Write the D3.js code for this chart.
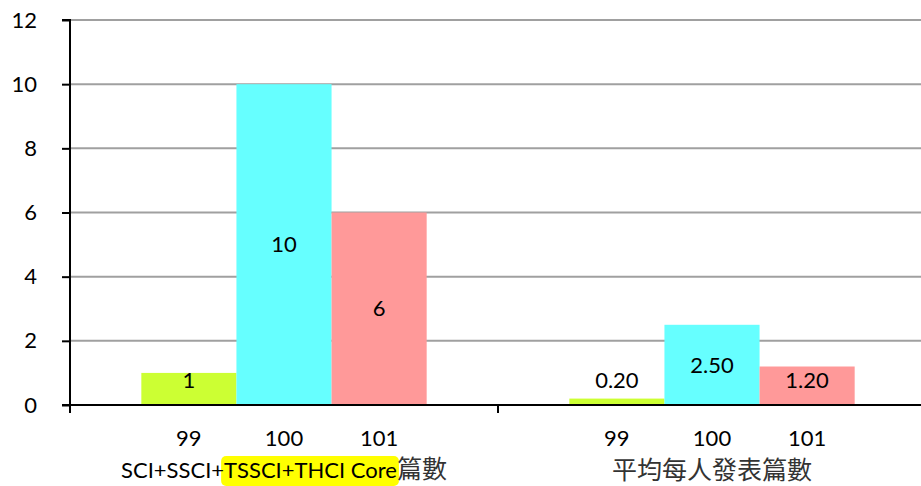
<!DOCTYPE html>
<html><head><meta charset="utf-8">
<script src="https://cdn.jsdelivr.net/npm/d3@7"></script>
<style>body{margin:0;background:#fff}svg{display:block}text{font-family:Lato,"Noto Sans CJK TC",sans-serif}</style>
</head><body><svg id="c" width="921" height="486"></svg>
<script>
const groups = ["SCI+SSCI+TSSCI+THCI Core篇數", "平均每人發表篇數"];
const years = ["99", "100", "101"];
const values = [[1, 10, 6], [0.2, 2.5, 1.2]];
const labels = [["1", "10", "6"], ["0.20", "2.50", "1.20"]];
const colors = ["#CCFF33", "#66FFFF", "#FF9999"];
const yTicks = [0, 2, 4, 6, 8, 10, 12];

const FS = 22, CJK = 25;
const svg = d3.select("#c");
const x0 = 70, x1 = 926, yTop = 20, yBot = 405;
const y = d3.scaleLinear().domain([0, 12]).range([yBot, yTop]);
const gx = d3.scaleBand().domain(groups).range([x0, x1]).paddingInner(0).paddingOuter(0);
const bx = d3.scaleBand().domain(years).range([0, gx.bandwidth()]).paddingOuter(0.75).paddingInner(0);

// gridlines
svg.append("g").selectAll("line").data(yTicks.filter(d => d > 0)).join("line")
  .attr("x1", x0).attr("x2", x1).attr("y1", d => y(d)).attr("y2", d => y(d))
  .attr("stroke", "#a0a0a0").attr("stroke-width", 2);

// bars
groups.forEach((g, gi) => {
  const gg = svg.append("g").attr("transform", `translate(${gx(g)},0)`);
  gg.selectAll("rect").data(values[gi]).join("rect")
    .attr("x", (d, i) => bx(years[i])).attr("width", bx.bandwidth())
    .attr("y", d => y(d)).attr("height", d => yBot - y(d))
    .attr("fill", (d, i) => colors[i]);
  gg.selectAll("text.v").data(values[gi]).join("text").attr("class", "v")
    .attr("x", (d, i) => bx(years[i]) + bx.bandwidth() / 2)
    .attr("y", d => Math.min((y(d) + yBot) / 2, yBot - 25))
    .attr("dy", "0.35em").attr("text-anchor", "middle")
    .attr("font-size", FS).attr("fill", "#000")
    .text((d, i) => labels[gi][i]);
  gg.selectAll("text.yr").data(years).join("text").attr("class", "yr")
    .attr("x", d => bx(d) + bx.bandwidth() / 2).attr("y", 438)
    .attr("dy", "0.35em").attr("text-anchor", "middle")
    .attr("font-size", FS).attr("fill", "#000").text(d => d);
});

// y axis
const ya = svg.append("g").attr("transform", `translate(${x0},0)`)
  .call(d3.axisLeft(y).tickValues(yTicks).tickSize(8).tickPadding(25));
ya.select(".domain").attr("stroke", "#000").attr("stroke-width", 2).attr("d", `M-8,${yTop}H0V${yBot}`);
ya.selectAll(".tick line").attr("stroke", "#000").attr("stroke-width", 2);
ya.selectAll(".tick text").attr("font-size", FS).attr("fill", "#000").attr("font-family", 'Lato,"Noto Sans CJK TC",sans-serif');

// x axis
svg.append("line").attr("x1", x0 - 8).attr("x2", x1).attr("y1", yBot).attr("y2", yBot)
  .attr("stroke", "#000").attr("stroke-width", 2);
svg.append("g").selectAll("line").data(groups).join("line")
  .attr("x1", d => gx(d)).attr("x2", d => gx(d)).attr("y1", yBot).attr("y2", yBot + 8)
  .attr("stroke", "#000").attr("stroke-width", 2);

// group labels
const hlRect = svg.append("rect").attr("fill", "#FFFF00").attr("rx", 5);
const t1 = svg.append("text").attr("x", gx(groups[0]) + gx.bandwidth() / 2).attr("y", 470)
  .attr("dy", "0.35em").attr("text-anchor", "middle").attr("font-size", FS).attr("fill", "#000");
const parts = ["SCI+SSCI+", "TSSCI+THCI Core", "篇數"];
parts.forEach((p, i) => t1.append("tspan").attr("font-size", i === 2 ? CJK : FS)
  .attr("fill", i === 2 ? "#333" : "#000").text(p));
const hl = t1.selectAll("tspan").nodes()[1];
const sx = hl.getStartPositionOfChar(0).x;
const ex = hl.getEndPositionOfChar(parts[1].length - 1).x;
hlRect.attr("x", sx - 3).attr("y", 456).attr("width", ex - sx + 5).attr("height", 30);
svg.append("text").attr("x", gx(groups[1]) + gx.bandwidth() / 2).attr("y", 470)
  .attr("dy", "0.35em").attr("text-anchor", "middle").attr("font-size", CJK).attr("fill", "#333").text(groups[1]);
</script></body></html>
